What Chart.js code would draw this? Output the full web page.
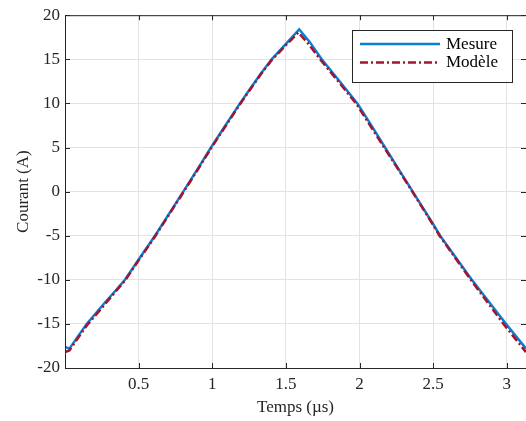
<!DOCTYPE html>
<html>
<head>
<meta charset="utf-8">
<script src="https://cdn.jsdelivr.net/npm/chart.js@4/dist/chart.umd.min.js"></script>
<style>
  html, body { margin: 0; padding: 0; background: #fff; }
  canvas { display: block; }
</style>
</head>
<body>
<canvas id="chart" width="526" height="421"></canvas>
<script>
// time in µs, current in A
const timeMesure = [0, 0.03, 0.147, 0.27, 0.35, 0.407, 0.5, 0.611, 0.803, 0.917, 0.991, 1.109, 1.188, 1.25, 1.33, 1.403, 1.5, 1.59, 1.66, 1.743, 1.86, 1.985, 2.08, 2.173, 2.25, 2.361, 2.5, 2.547, 2.762, 2.995, 3.13]
const courantMesure = [-17.6, -17.8, -15, -12.6, -11.1, -10, -7.7, -5, 0, 3, 5, 8, 10, 11.5, 13.4, 15, 16.75, 18.4, 17.0, 15, 12.6, 10, 7.5, 5, 2.95, 0, -3.7, -5, -10, -15, -17.8]

const timeModele = [0, 0.03, 0.147, 0.27, 0.35, 0.407, 0.5, 0.611, 0.803, 0.917, 0.991, 1.109, 1.188, 1.25, 1.33, 1.403, 1.5, 1.585, 1.655, 1.732, 1.85, 1.98, 2.075, 2.17, 2.25, 2.358, 2.5, 2.543, 2.755, 2.977, 3.13]
const courantModele = [-18.2, -18.0, -15.2, -12.8, -11.2, -10.1, -7.8, -5.1, -0.1, 2.9, 4.9, 7.9, 9.9, 11.4, 13.3, 14.9, 16.6, 18.05, 16.7, 15, 12.6, 9.9, 7.4, 4.9, 2.85, 0, -3.8, -5, -10, -15, -18.2]

const xTicks = [0.5, 1, 1.5, 2, 2.5, 3]
const yTicks = [-20, -15, -10, -5, 0, 5, 10, 15, 20]

const FONT = "'Liberation Serif', 'Times New Roman', serif"
const AXIS = "#262626"
const GRID = "#e3e3e3"

const toPoints = (xs, ys) => xs.map((x, i) => ({ x, y: ys[i] }))

// MATLAB style box + inward ticks
const axesBox = {
  id: "axesBox",
  afterDatasetsDraw(chart) {
    const { ctx, chartArea: a, scales } = chart
    ctx.save()
    ctx.strokeStyle = AXIS
    ctx.lineWidth = 1
    ctx.beginPath()
    ctx.moveTo(a.left + 0.5, a.bottom + 0.5)
    ctx.lineTo(a.left + 0.5, a.top + 0.5)
    ctx.lineTo(a.right, a.top + 0.5)
    ctx.moveTo(a.left, a.bottom + 0.5)
    ctx.lineTo(a.right, a.bottom + 0.5)
    const t = 5
    xTicks.forEach(v => {
      const px = Math.round(scales.x.getPixelForValue(v)) + 0.5
      ctx.moveTo(px, a.bottom); ctx.lineTo(px, a.bottom - t)
      ctx.moveTo(px, a.top); ctx.lineTo(px, a.top + t)
    })
    yTicks.forEach(v => {
      const py = Math.round(scales.y.getPixelForValue(v)) + 0.5
      ctx.moveTo(a.left, py); ctx.lineTo(a.left + t, py)
      ctx.moveTo(a.right, py); ctx.lineTo(a.right - t, py)
    })
    ctx.stroke()
    ctx.restore()
  },
}

const boxLegend = {
  id: "boxLegend",
  afterDraw(chart) {
    const { ctx } = chart
    const box = { x: 352, y: 30, w: 160, h: 52 }
    ctx.save()
    ctx.fillStyle = "#fff"
    ctx.fillRect(box.x, box.y, box.w, box.h)
    ctx.strokeStyle = AXIS
    ctx.lineWidth = 1
    ctx.strokeRect(box.x + 0.5, box.y + 0.5, box.w, box.h)
    chart.data.datasets.forEach((ds, i) => {
      const y = 44 + i * 18.5
      ctx.strokeStyle = ds.borderColor
      ctx.lineWidth = ds.borderWidth
      ctx.setLineDash(ds.borderDash || [])
      ctx.beginPath()
      ctx.moveTo(360, y)
      ctx.lineTo(440, y)
      ctx.stroke()
      ctx.setLineDash([])
      ctx.fillStyle = "#000"
      ctx.font = "17px " + FONT
      ctx.textBaseline = "middle"
      ctx.fillText(ds.label, 446, y + 0.5)
    })
    ctx.restore()
  },
}

new Chart(document.getElementById("chart"), {
  type: "line",
  data: {
    datasets: [
      {
        label: "Mesure",
        data: toPoints(timeMesure, courantMesure),
        borderColor: "#0a7fd4",
        borderWidth: 2.5,
        pointRadius: 0,
        tension: 0,
        order: 1,
      },
      {
        label: "Modèle",
        data: toPoints(timeModele, courantModele),
        borderColor: "#a2142f",
        borderWidth: 2.5,
        borderDash: [8, 3, 2, 3],
        pointRadius: 0,
        tension: 0,
        order: 0,
      },
    ],
  },
  options: {
    responsive: false,
    devicePixelRatio: 1,
    animation: false,
    layout: { padding: { top: 14, right: 0, left: 0, bottom: 0 } },
    plugins: { legend: { display: false }, tooltip: { enabled: false } },
    scales: {
      x: {
        type: "linear",
        min: 0,
        max: 3.13,
        afterBuildTicks: s => { s.ticks = xTicks.map(value => ({ value })) },
        afterFit: s => { s.height = 53 },
        ticks: {
          color: "#262626",
          font: { family: FONT, size: 17 },
          padding: 6,
          maxRotation: 0,
          callback: v => String(v),
        },
        grid: { color: GRID, drawTicks: false },
        border: { display: false },
        title: {
          display: true,
          text: "Temps (µs)",
          color: "#262626",
          font: { family: FONT, size: 17 },
          padding: { top: 0, bottom: 3 },
        },
      },
      y: {
        min: -20,
        max: 20,
        afterBuildTicks: s => { s.ticks = yTicks.map(value => ({ value })) },
        afterFit: s => { s.width = 65 },
        ticks: {
          color: "#262626",
          font: { family: FONT, size: 17 },
          padding: 5,
          callback: v => String(v),
        },
        grid: { color: GRID, drawTicks: false },
        border: { display: false },
        title: {
          display: true,
          text: "Courant (A)",
          color: "#262626",
          font: { family: FONT, size: 17 },
          padding: { top: 13, bottom: 0 },
        },
      },
    },
  },
  plugins: [axesBox, boxLegend],
})
</script>
</body>
</html>
